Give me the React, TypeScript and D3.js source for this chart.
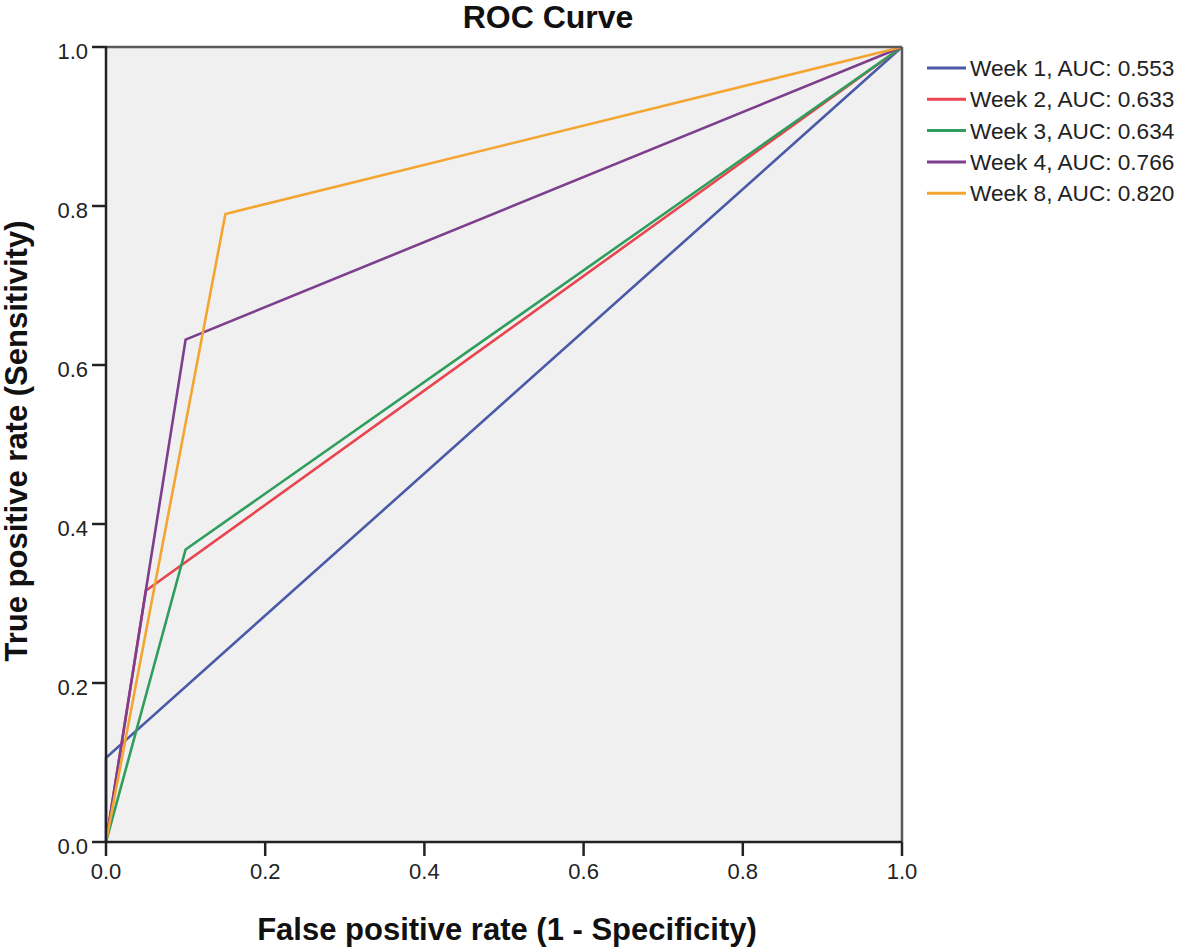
import React from "react";
import * as d3 from "d3";

const seriesNames = ["Week 1", "Week 2", "Week 3", "Week 4", "Week 8"];
const aucValues = ["0.553", "0.633", "0.634", "0.766", "0.820"];
const seriesColors = ["#4a5aa8", "#e8454f", "#2f9e5c", "#7d3f8d", "#f4a531"];
const fprWeek1 = [0, 0, 1];
const tprWeek1 = [0, 0.106, 1];
const fprWeek2 = [0, 0.05, 1];
const tprWeek2 = [0, 0.316, 1];
const fprWeek3 = [0, 0.1, 1];
const tprWeek3 = [0, 0.368, 1];
const fprWeek4 = [0, 0.1, 1];
const tprWeek4 = [0, 0.632, 1];
const fprWeek8 = [0, 0.15, 1];
const tprWeek8 = [0, 0.79, 1];
const tickValues = [0, 0.2, 0.4, 0.6, 0.8, 1.0];

const W = 1181;
const H = 948;
const font = "'Liberation Sans', Arial, sans-serif";

export default function App() {
  const x = d3.scaleLinear().domain([0, 1]).range([106, 902]);
  const y = d3.scaleLinear().domain([0, 1]).range([842, 47]);
  const fprs = [fprWeek1, fprWeek2, fprWeek3, fprWeek4, fprWeek8];
  const tprs = [tprWeek1, tprWeek2, tprWeek3, tprWeek4, tprWeek8];
  const series = seriesNames.map((name, i) => ({
    name,
    auc: aucValues[i],
    color: seriesColors[i],
    pts: fprs[i].map((f, j) => [f, tprs[i][j]] as [number, number]),
  }));
  const line = d3
    .line<[number, number]>()
    .x((d) => x(d[0]))
    .y((d) => y(d[1]));

  return (
    <svg
      width={W}
      height={H}
      style={{ position: "absolute", left: 0, top: 0, background: "#fff" }}
    >
      <rect x={x(0)} y={y(1)} width={x(1) - x(0)} height={y(0) - y(1)} fill="#f0f0f0" />
      {series.map((s) => (
        <path
          key={s.name}
          d={line(s.pts) || ""}
          fill="none"
          stroke={s.color}
          strokeWidth={2.6}
          strokeLinejoin="miter"
        />
      ))}
      {/* frame */}
      <line x1={x(0)} x2={x(1)} y1={y(1)} y2={y(1)} stroke="#5a5a5a" strokeWidth={2.5} />
      <line x1={x(1)} x2={x(1)} y1={y(1)} y2={y(0)} stroke="#5a5a5a" strokeWidth={2.5} />
      <line x1={x(0)} x2={x(1)} y1={y(0)} y2={y(0)} stroke="#222" strokeWidth={2.5} />
      <line x1={x(0)} x2={x(0)} y1={y(1) - 1} y2={y(0) + 1} stroke="#222" strokeWidth={2.5} />
      {/* y ticks */}
      {tickValues.map((t) => (
        <g key={"y" + t}>
          <line x1={x(0) - 14} x2={x(0)} y1={y(t)} y2={y(t)} stroke="#222" strokeWidth={2.5} />
          <text
            x={x(0) - 18}
            y={y(t) + 12}
            textAnchor="end"
            fontFamily={font}
            fontSize={22}
            fill="#222"
          >
            {d3.format(".1f")(t)}
          </text>
        </g>
      ))}
      {/* x ticks */}
      {tickValues.map((t) => (
        <g key={"x" + t}>
          <line x1={x(t)} x2={x(t)} y1={y(0)} y2={y(0) + 14} stroke="#222" strokeWidth={2.5} />
          <text
            x={x(t)}
            y={879}
            textAnchor="middle"
            fontFamily={font}
            fontSize={22}
            fill="#222"
          >
            {d3.format(".1f")(t)}
          </text>
        </g>
      ))}
      {/* titles */}
      <text x={548} y={28} textAnchor="middle" fontFamily={font} fontSize={32} fontWeight="bold" fill="#111">
        ROC Curve
      </text>
      <text x={507} y={940} textAnchor="middle" fontFamily={font} fontSize={31} fontWeight="bold" fill="#111">
        False positive rate (1 - Specificity)
      </text>
      <text
        transform={`translate(27, 441) rotate(-90)`}
        textAnchor="middle"
        fontFamily={font}
        fontSize={31}
        fontWeight="bold"
        fill="#111"
      >
        True positive rate (Sensitivity)
      </text>
      {/* legend */}
      {series.map((s, i) => {
        const cy = 68 + i * 31.3;
        return (
          <g key={"lg" + s.name}>
            <line x1={927} x2={966} y1={cy} y2={cy} stroke={s.color} strokeWidth={3} />
            <text x={970} y={cy + 8} fontFamily={font} fontSize={22.6} fill="#222">
              {`${s.name}, AUC: ${s.auc}`}
            </text>
          </g>
        );
      })}
    </svg>
  );
}
